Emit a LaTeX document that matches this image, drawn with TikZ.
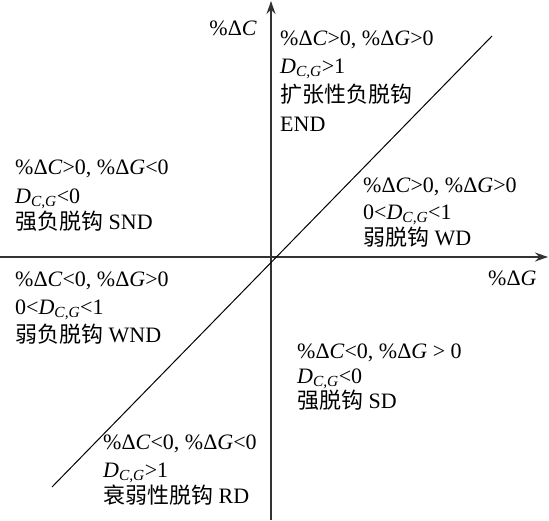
\documentclass[tikz,border=0pt]{standalone}
\usepackage{fontspec}
\setmainfont{Liberation Serif}
\newfontfamily\cjk{Noto Sans CJK SC}
\usetikzlibrary{arrows.meta}
\newcommand{\dcg}{\textit{D}\textsubscript{\textit{C,G}}}
\newcommand{\pC}{\%Δ\textit{C}}
\newcommand{\pG}{\%Δ\textit{G}}
\begin{document}
\begin{tikzpicture}[x=1pt,y=-1pt,
  lbl/.style={anchor=base west,inner sep=0pt,font=\fontsize{22}{26}\selectfont},
  axis/.style={line width=1.3pt,draw=black!80,-{Stealth[length=13pt,width=9pt]}},
  diag/.style={line width=1pt,draw=black}]
\useasboundingbox (0,0) rectangle (549,520);
\coordinate (xs) at (0,257);
\coordinate (xe) at (548,257);
\coordinate (ys) at (271,520);
\coordinate (ye) at (271,1);
\coordinate (ds) at (52,487);
\coordinate (de) at (492,36);
\draw[axis] (xs) -- (xe);
\draw[axis] (ys) -- (ye);
\draw[diag] (ds) -- (de);
% axis labels
\node[lbl,anchor=base east] (lc) at (257,35) {\pC};
\node[lbl] (lg) at (488,285) {\pG};
% END
\node[lbl] (e1) at (280,45) {\pC>0, \pG>0};
\node[lbl] (e2) at (280,73) {\dcg>1};
\node[lbl] (e3) at (280,102) {\cjk 扩张性负脱钩};
\node[lbl] (e4) at (280,131) {END};
% SND
\node[lbl] (s1) at (15,174) {\pC>0, \pG<0};
\node[lbl] (s2) at (15,203) {\dcg<0};
\node[lbl] (s3) at (15,229) {{\cjk 强负脱钩} SND};
% WD
\node[lbl] (w1) at (363,192) {\pC>0, \pG>0};
\node[lbl] (w2) at (363,219) {0<\dcg<1};
\node[lbl] (w3) at (363,245) {{\cjk 弱脱钩} WD};
% WND
\node[lbl] (n1) at (15,286) {\pC<0, \pG>0};
\node[lbl] (n2) at (15,314) {0<\dcg<1};
\node[lbl] (n3) at (15,342) {{\cjk 弱负脱钩} WND};
% SD
\node[lbl] (d1) at (297,358) {\pC<0, \pG\ > 0};
\node[lbl] (d2) at (297,383) {\dcg<0};
\node[lbl] (d3) at (297,408) {{\cjk 强脱钩} SD};
% RD
\node[lbl] (r1) at (103,449) {\pC<0, \pG<0};
\node[lbl] (r2) at (103,477) {\dcg>1};
\node[lbl] (r3) at (103,503) {{\cjk 衰弱性脱钩} RD};
\end{tikzpicture}
\end{document}
